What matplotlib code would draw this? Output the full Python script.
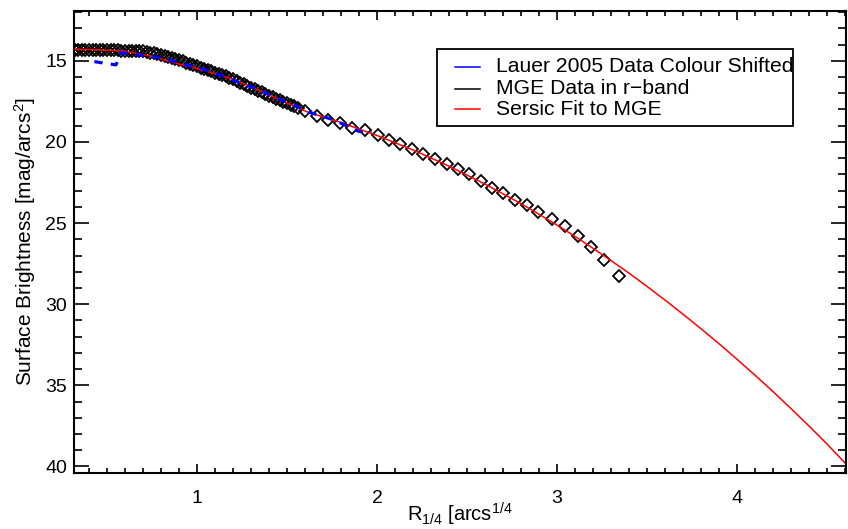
import matplotlib
matplotlib.use('Agg')
from matplotlib import pyplot as plt
from matplotlib.patches import Rectangle
from matplotlib.ticker import MultipleLocator

plt.rcParams['font.family'] = ['Liberation Sans', 'DejaVu Sans']
plt.rcParams['mathtext.fontset'] = 'custom'
plt.rcParams['mathtext.rm'] = 'Liberation Sans'
plt.rcParams['mathtext.it'] = 'Liberation Sans:italic'
plt.rcParams['mathtext.default'] = 'rm'

# MGE data in r-band (R^1/4, mag/arcs^2)
mge_r = [0.32, 0.34, 0.36, 0.38, 0.40, 0.42, 0.44, 0.46, 0.48, 0.50,
         0.52, 0.54, 0.56, 0.58, 0.60, 0.62, 0.64, 0.66, 0.68, 0.70,
         0.72, 0.74, 0.76, 0.78, 0.80, 0.82, 0.84, 0.86, 0.88, 0.90,
         0.92, 0.94, 0.96, 0.98, 1.00, 1.02, 1.04, 1.06, 1.08, 1.10,
         1.12, 1.14, 1.16, 1.18, 1.20, 1.22, 1.24, 1.26, 1.28, 1.30,
         1.32, 1.34, 1.36, 1.38, 1.40, 1.42, 1.44, 1.46, 1.48, 1.50,
         1.52, 1.54, 1.56,
         1.60, 1.665, 1.73, 1.794, 1.859, 1.933, 2.007, 2.068, 2.128, 2.193,
         2.257, 2.322, 2.387, 2.452, 2.513, 2.578, 2.637, 2.698, 2.767, 2.831,
         2.896, 2.97, 3.044, 3.115, 3.188, 3.263, 3.346]
mge_mu = [14.34, 14.34, 14.34, 14.34, 14.34, 14.34, 14.34, 14.35, 14.35, 14.35,
          14.35, 14.36, 14.36, 14.37, 14.37, 14.38, 14.38, 14.39, 14.40, 14.42,
          14.45, 14.49, 14.54, 14.59, 14.64, 14.70, 14.76, 14.83, 14.89, 14.96,
          15.03, 15.11, 15.19, 15.26, 15.34, 15.42, 15.50, 15.57, 15.65, 15.73,
          15.80, 15.88, 15.95, 16.05, 16.15, 16.25, 16.35, 16.45, 16.55, 16.65,
          16.75, 16.85, 16.95, 17.05, 17.15, 17.25, 17.35, 17.44, 17.53, 17.63,
          17.72, 17.81, 17.90,
          18.08, 18.40, 18.66, 18.86, 19.11, 19.28, 19.59, 19.90, 20.10, 20.41,
          20.72, 21.02, 21.33, 21.64, 21.99, 22.41, 22.81, 23.15, 23.56, 23.91,
          24.32, 24.73, 25.20, 25.82, 26.48, 27.30, 28.27]

# Lauer 2005 data, colour shifted
lauer_r = [0.43, 0.55, 0.58, 0.64, 0.70, 0.78, 0.86, 0.92, 1.02, 1.13,
           1.25, 1.35, 1.42, 1.52, 1.62, 1.76, 1.90, 1.97]
lauer_mu = [15.05, 15.25, 14.50, 14.58, 14.68, 14.78, 14.98, 15.20, 15.45, 15.88,
            16.40, 16.80, 17.20, 17.63, 18.15, 18.64, 19.35, 19.42]

# Sersic fit to MGE
sersic_r = [0.317, 0.45, 0.594, 0.75, 0.909, 1.05, 1.187, 1.3, 1.45, 1.613,
            1.8, 2.0, 2.2, 2.4, 2.6, 2.8, 2.9, 3.0, 3.1, 3.2,
            3.3, 3.4, 3.5, 3.6, 3.7, 3.8, 3.9, 4.0, 4.1, 4.2,
            4.3, 4.4, 4.5, 4.606]
sersic_mu = [14.28, 14.32, 14.40, 14.72, 15.22, 15.62, 16.09, 16.60, 17.35, 18.15,
             18.80, 19.60, 20.49, 21.49, 22.59, 23.80, 24.45, 25.12, 25.82, 26.55,
             27.31, 28.08, 28.90, 29.74, 30.61, 31.51, 32.43, 33.39, 34.37, 35.38,
             36.43, 37.50, 38.61, 39.85]

labels = ['Lauer 2005 Data Colour Shifted', 'MGE Data in r\u2212band', 'Sersic Fit to MGE']
colors = ['blue', 'black', 'red']

fig = plt.figure(figsize=(8.48, 5.29), dpi=100)
ax = fig.add_axes([0.0873, 0.1059, 0.9104, 0.8733])

ax.plot(mge_r, mge_mu, 'D', ms=6, mfc='none', mec='black', mew=1.3)
ax.plot(sersic_r, sersic_mu, color='red', lw=1.1)
ax.plot(lauer_r, lauer_mu, color='blue', lw=2.3, linestyle=(0, (2.6, 2.6)))

ax.set_xlim(0.317, 4.606)
ax.set_ylim(40.4, 11.93)
ax.xaxis.set_major_locator(MultipleLocator(1))
ax.xaxis.set_minor_locator(MultipleLocator(0.1))
ax.yaxis.set_major_locator(MultipleLocator(5))
ax.yaxis.set_minor_locator(MultipleLocator(1))
ax.tick_params(axis='both', which='both', direction='in', top=True, right=True,
               labelsize=14, width=1.2, colors='black')
ax.tick_params(axis='x', which='major', length=6.5, pad=12)
ax.tick_params(axis='x', which='minor', length=3.3)
ax.tick_params(axis='y', which='major', length=10.8, pad=5)
ax.tick_params(axis='y', which='minor', length=5.8)
for s in ax.spines.values():
    s.set_linewidth(1.5)

ax.set_xlabel('R$_{1/4}$ [arcs$^{1/4}$', fontsize=14.5, labelpad=-4)
ax.set_ylabel('Surface Brightness [mag/arcs$^2$]', fontsize=15, labelpad=5)

# legend box drawn like the original
ax.add_patch(Rectangle((0.4702, 0.7511), 0.4611, 0.1666, transform=ax.transAxes,
                       fill=False, edgecolor='black', lw=1.3, zorder=5))
rows = [0.8794, 0.8312, 0.7872]
for yy, lab, c in zip(rows, labels, colors):
    ax.plot([0.4935, 0.5259], [yy, yy], color=c, lw=1.1, transform=ax.transAxes, zorder=6)
    ax.text(0.5466, yy, lab, transform=ax.transAxes, fontsize=15.2, va='center', ha='left', zorder=6)

plt.savefig('out.png', dpi=100)
plt.close()
